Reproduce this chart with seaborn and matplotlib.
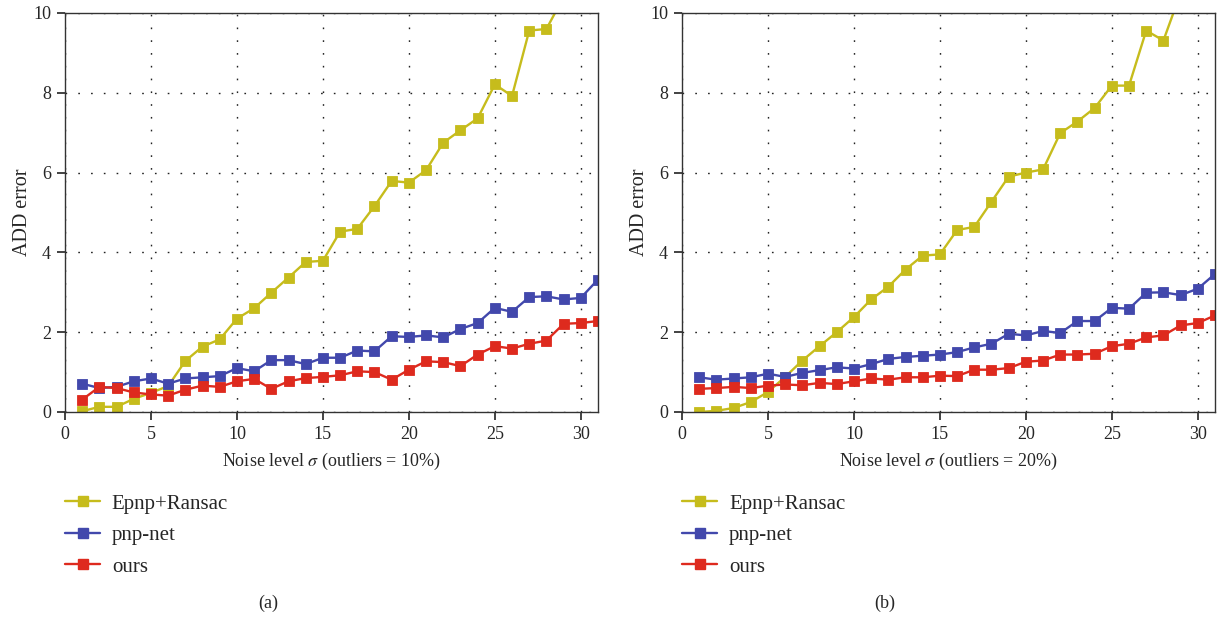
import numpy as np
import pandas as pd
import matplotlib
matplotlib.use("Agg")
import matplotlib.pyplot as plt
import seaborn as sns
from matplotlib.lines import Line2D

noise = list(range(1, 32))

# Panel (a): outliers = 10%
epnp_a = [0.02, 0.13, 0.13, 0.33, 0.48, 0.65, 1.28, 1.64, 1.82, 2.34, 2.60, 2.99, 3.37, 3.76, 3.79,
          4.52, 4.59, 5.16, 5.79, 5.75, 6.06, 6.75, 7.06, 7.36, 8.21, 7.92, 9.56, 9.60, 10.4, 11.2, 12.0]
pnpnet_a = [0.71, 0.60, 0.63, 0.77, 0.84, 0.71, 0.84, 0.87, 0.90, 1.10, 1.02, 1.30, 1.30, 1.20, 1.36,
            1.36, 1.54, 1.52, 1.90, 1.88, 1.92, 1.87, 2.08, 2.23, 2.61, 2.51, 2.88, 2.90, 2.82, 2.86, 3.32]
ours_a = [0.31, 0.63, 0.60, 0.49, 0.44, 0.41, 0.56, 0.66, 0.63, 0.77, 0.83, 0.58, 0.77, 0.85, 0.88,
          0.92, 1.02, 1.00, 0.81, 1.06, 1.27, 1.25, 1.15, 1.44, 1.65, 1.59, 1.71, 1.79, 2.21, 2.23, 2.28]

# Panel (b): outliers = 20%
epnp_b = [0.00, 0.03, 0.10, 0.25, 0.50, 0.88, 1.29, 1.65, 2.00, 2.38, 2.82, 3.14, 3.57, 3.92, 3.95,
          4.56, 4.64, 5.27, 5.90, 6.00, 6.08, 6.99, 7.28, 7.62, 8.18, 8.18, 9.56, 9.31, 10.5, 11.5, 12.3]
pnpnet_b = [0.87, 0.81, 0.84, 0.87, 0.96, 0.88, 0.98, 1.05, 1.12, 1.09, 1.20, 1.33, 1.38, 1.41, 1.44,
            1.50, 1.62, 1.71, 1.96, 1.92, 2.03, 1.98, 2.28, 2.28, 2.61, 2.59, 2.99, 3.00, 2.93, 3.09, 3.46]
ours_b = [0.58, 0.60, 0.63, 0.60, 0.66, 0.69, 0.67, 0.73, 0.70, 0.77, 0.84, 0.81, 0.87, 0.87, 0.91,
          0.90, 1.06, 1.06, 1.10, 1.26, 1.29, 1.44, 1.44, 1.46, 1.65, 1.71, 1.87, 1.92, 2.17, 2.23, 2.42]

methods = ["Epnp+Ransac", "pnp-net", "ours"]
colors = ["#C6BC1C", "#4248AC", "#DE2A1E"]
xlabels = ["Noise level $\\sigma$ (outliers = 10%)", "Noise level $\\sigma$ (outliers = 20%)"]
captions = ["(a)", "(b)"]
xticks = [0, 5, 10, 15, 20, 25, 30]
yticks = [0, 2, 4, 6, 8, 10]

sns.set_style("white")
plt.rcParams["font.family"] = ["Liberation Serif", "DejaVu Serif"]
plt.rcParams["mathtext.fontset"] = "stix"

FS = 13
fig = plt.figure(figsize=(12.18, 6.18), dpi=100)
W, H = 1218, 618
ax_pos = [(65, 13, 598, 412), (682, 13, 1215, 412)]
panels = [(epnp_a, pnpnet_a, ours_a), (epnp_b, pnpnet_b, ours_b)]
cap_x = [268, 885]

for i, (vals, (l, t, r, b)) in enumerate(zip(panels, ax_pos)):
    ax = fig.add_axes([l / W, 1 - b / H, (r - l) / W, (b - t) / H])
    rows = []
    for m, v in zip(methods, vals):
        for xx, yy in zip(noise, v):
            rows.append({"noise": xx, "err": yy, "method": m})
    df = pd.DataFrame(rows)
    sns.lineplot(data=df, x="noise", y="err", hue="method", hue_order=methods,
                 palette=colors, marker="s", markersize=7.8, linewidth=1.7,
                 markeredgewidth=0.6, ax=ax, legend=False, errorbar=None)
    for line in ax.lines:
        line.set_markeredgecolor(line.get_color())
    ax.set_xlim(0, 31)
    ax.set_ylim(0, 10)
    ax.set_xticks(xticks)
    ax.set_yticks(yticks)
    ax.grid(True, color="#222222", linestyle=(0, (1.2, 8)), linewidth=1.0)
    for s in ax.spines.values():
        s.set_color("#333333")
        s.set_linewidth(1.0)
    ax.tick_params(direction="out", length=6, width=1.2, color="#222222",
                   labelsize=FS, bottom=True, left=True, pad=4)
    ax.set_xlabel(xlabels[i], fontsize=FS, labelpad=6)
    ax.set_ylabel("ADD error", fontsize=14.5, labelpad=1)
    handles = [Line2D([], [], color=c, marker="s", markersize=7.5, linewidth=1.7) for c in colors]
    fig.legend(handles, methods, loc="upper left",
               bbox_to_anchor=(l / W, 1 - 494 / H), frameon=False,
               fontsize=15, handlelength=1.7, handletextpad=0.55, labelspacing=0.57,
               borderpad=0, borderaxespad=0)
    fig.text(cap_x[i] / W, 1 - 603 / H, captions[i], fontsize=FS, ha="center", va="center")

fig.savefig("out.png", dpi=100)
